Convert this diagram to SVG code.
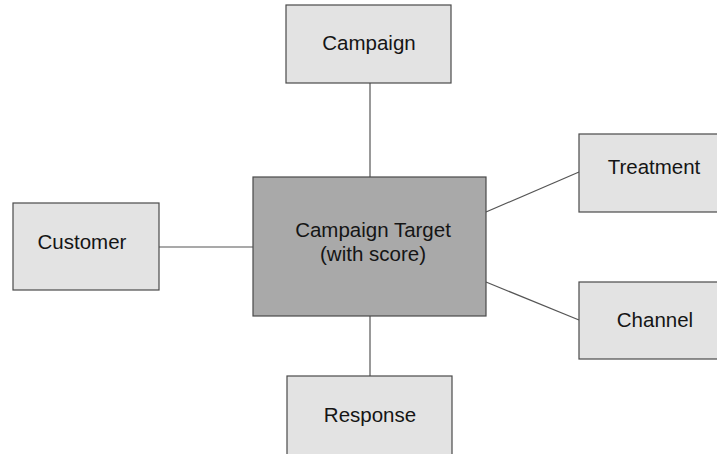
<svg xmlns="http://www.w3.org/2000/svg" width="717" height="454" viewBox="0 0 717 454">
  <style>
    .entity { fill: #e3e3e3; stroke: #4a4a4a; stroke-width: 1.2; }
    .core { fill: #a9a9a9; stroke: #4a4a4a; stroke-width: 1.2; }
    .label { font-family: "Liberation Sans", Arial, Helvetica, sans-serif; font-size: 20.5px; fill: #151515; text-anchor: middle; }
    .link { stroke: #555555; stroke-width: 1.2; fill: none; }
  </style>
  <rect width="717" height="454" fill="#ffffff"/>

  <!-- relationship lines -->
  <g id="connectors">
    <line class="link" x1="370" y1="83" x2="370" y2="177"/>
    <line class="link" x1="159" y1="247" x2="253" y2="247"/>
    <line class="link" x1="486" y1="212" x2="579" y2="172"/>
    <line class="link" x1="486" y1="282" x2="579" y2="320"/>
    <line class="link" x1="370" y1="316" x2="370" y2="376"/>
  </g>

  <g id="campaign">
    <rect class="entity" x="286" y="5" width="165" height="78"/>
    <text class="label" x="369" y="50">Campaign</text>
  </g>

  <g id="customer">
    <rect class="entity" x="13" y="203" width="146" height="87"/>
    <text class="label" x="82" y="249">Customer</text>
  </g>

  <g id="campaign-target">
    <rect class="core" x="253" y="177" width="233" height="139"/>
    <text class="label" x="373" y="237">Campaign Target</text>
    <text class="label" x="373" y="261">(with score)</text>
  </g>

  <g id="treatment">
    <rect class="entity" x="579" y="134" width="180" height="78"/>
    <text class="label" x="654" y="174">Treatment</text>
  </g>

  <g id="channel">
    <rect class="entity" x="579" y="282" width="180" height="77"/>
    <text class="label" x="655" y="327">Channel</text>
  </g>

  <g id="response">
    <rect class="entity" x="287" y="376" width="165" height="100"/>
    <text class="label" x="370" y="422">Response</text>
  </g>
</svg>
